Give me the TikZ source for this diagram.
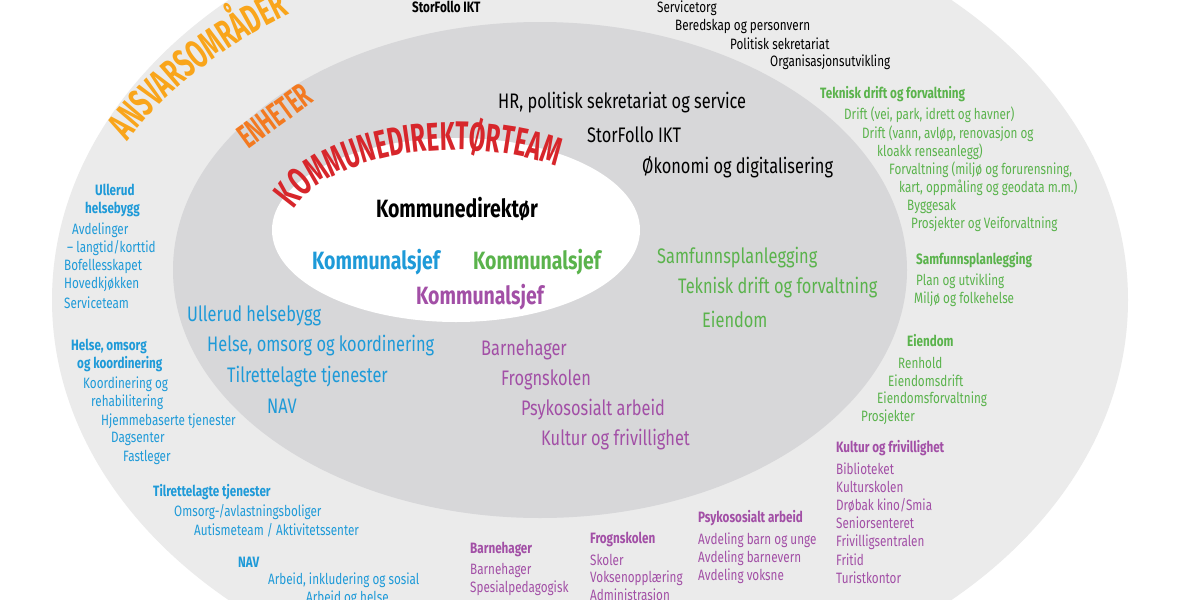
\documentclass[tikz,border=0pt]{standalone}
\usepackage{fontspec}
\setmainfont{Fira Sans}[FakeStretch=0.78]
\newfontfamily\narrowf{Fira Sans}[FakeStretch=0.6]
\usetikzlibrary{decorations.text}
\definecolor{cblue}{HTML}{1E9AD8}
\definecolor{cgreen}{HTML}{5AB34C}
\definecolor{cpurple}{HTML}{A24FA6}
\definecolor{cred}{HTML}{D7262B}
\definecolor{corange}{HTML}{F9A51B}
\definecolor{corange2}{HTML}{F37A21}
\definecolor{outerg}{HTML}{EBEBEB}
\definecolor{midg}{HTML}{D7D7D9}
\begin{document}
\begin{tikzpicture}[x=1pt,y=1pt,
  sm/.style={anchor=west,inner sep=0pt,font=\fontsize{15}{16}\selectfont},
  smb/.style={sm,font=\fontsize{15}{16}\selectfont\bfseries},
  md/.style={anchor=west,inner sep=0pt,font=\fontsize{21}{22}\selectfont},
  bg/.style={anchor=center,inner sep=0pt,font=\fontsize{25}{26}\selectfont\bfseries}]
\useasboundingbox (0,-600) rectangle (1200,0);
\fill[white] (0,-600) rectangle (1200,0);
\fill[outerg] (590,-300) ellipse[x radius=538,y radius=405];
\fill[midg] (540,-270) ellipse[x radius=367,y radius=248];
\fill[white] (456,-230) ellipse[x radius=184,y radius=92];
% curved titles
\path[decorate,decoration={text along path,text align=left,
  text={|\fontsize{40}{40}\selectfont\narrowf\bfseries\color{corange}|ANSVARSOMRÅDER}}]
  (590,-300) ++(153:519 and 350) arc[start angle=153,end angle=70,x radius=519,y radius=350];
\path[decorate,decoration={text along path,text align=center,
  text={|\fontsize{40}{40}\selectfont\narrowf\bfseries\color{cred}|KOMMUNEDIREKTØRTEAM}}]
  (456,-235) ++(172:170 and 85) arc[start angle=172,end angle=48,x radius=170,y radius=85];
\node[rotate=36,anchor=south west,inner sep=0pt,text=corange2,font=\fontsize{34}{34}\selectfont\narrowf\bfseries] (enh) at (248,-150) {ENHETER};
% inner
\node[bg] (kd) at (457,-209) {Kommunedirektør};
\node[bg,text=cblue] (k1) at (376,-262) {Kommunalsjef};
\node[bg,text=cgreen] (k2) at (537,-262) {Kommunalsjef};
\node[bg,text=cpurple] (k3) at (480,-297) {Kommunalsjef};
% middle ring
\foreach \x/\y/\t [count=\i] in {498/103/{HR, politisk sekretariat og service},587/135/{StorFollo IKT},642/167/{Økonomi og digitalisering}}
  \node[md] (mk\i) at (\x,-\y) {\t};
\foreach \x/\y/\t [count=\i] in {657/258/{Samfunnsplanlegging},678/288/{Teknisk drift og forvaltning},702/319/{Eiendom}}
  \node[md,text=cgreen] (mg\i) at (\x,-\y) {\t};
\foreach \x/\y/\t [count=\i] in {187/316/{Ullerud helsebygg},207/346/{Helse, omsorg og koordinering},227/377/{Tilrettelagte tjenester},267/406/{NAV}}
  \node[md,text=cblue] (mb\i) at (\x,-\y) {\t};
\foreach \x/\y/\t [count=\i] in {481/350/{Barnehager},501/380/{Frognskolen},521/410/{Psykososialt arbeid},541/440/{Kultur og frivillighet}}
  \node[md,text=cpurple] (mp\i) at (\x,-\y) {\t};
% outer ring black
\node[smb] (ok0) at (412,-7) {StorFollo IKT};
\foreach \x/\y/\t [count=\i] in {657/8/{Servicetorg},675/26/{Beredskap og personvern},730/44/{Politisk sekretariat},770/62/{Organisasjonsutvikling}}
  \node[sm] (ok\i) at (\x,-\y) {\t};
% outer green
\foreach \x/\y/\t [count=\i] in {820/94/{Teknisk drift og forvaltning},916/260/{Samfunnsplanlegging},907/341/{Eiendom}}
  \node[smb,text=cgreen] (ogh\i) at (\x,-\y) {\t};
\foreach \x/\y/\t [count=\i] in {844/115/{Drift (vei, park, idrett og havner)},862/134/{Drift (vann, avløp, renovasjon og},877/152/{kloakk renseanlegg)},889/170/{Forvaltning (miljø og forurensning,},899/188/{kart, oppmåling og geodata m.m.)},907/206/{Byggesak},911/224/{Prosjekter og Veiforvaltning},916/281/{Plan og utvikling},914/299/{Miljø og folkehelse},898/363/{Renhold},888/381/{Eiendomsdrift},877/399/{Eiendomsforvaltning},861/417/{Prosjekter}}
  \node[sm,text=cgreen] (og\i) at (\x,-\y) {\t};
% outer purple
\foreach \x/\y/\t [count=\i] in {836/448/{Kultur og frivillighet},698/518/{Psykososialt arbeid},590/539/{Frognskolen},470/549/{Barnehager}}
  \node[smb,text=cpurple] (oph\i) at (\x,-\y) {\t};
\foreach \x/\y/\t [count=\i] in {836/469/{Biblioteket},836/487/{Kulturskolen},836/505/{Drøbak kino/Smia},836/523/{Seniorsenteret},836/542/{Frivilligsentralen},836/560/{Fritid},836/578/{Turistkontor},698/540/{Avdeling barn og unge},698/558/{Avdeling barnevern},698/576/{Avdeling voksne},590/560/{Skoler},590/578/{Voksenopplæring},590/596/{Administrasjon},470/570/{Barnehager},470/588/{Spesialpedagogisk}}
  \node[sm,text=cpurple] (op\i) at (\x,-\y) {\t};
% outer blue
\foreach \x/\y/\t [count=\i] in {95/190/{Ullerud},85/209/{helsebygg},71/346/{Helse, omsorg},77/364/{og koordinering},153/492/{Tilrettelagte tjenester},238/562/{NAV}}
  \node[smb,text=cblue] (obh\i) at (\x,-\y) {\t};
\foreach \x/\y/\t [count=\i] in {72/230/{Avdelinger},67/248/{– langtid/korttid},64/266/{Bofellesskapet},64/284/{Hovedkjøkken},64/303/{Serviceteam},83/384/{Koordinering og},91/402/{rehabilitering},101/421/{Hjemmebaserte tjenester},111/439/{Dagsenter},123/457/{Fastleger},174/512/{Omsorg-/avlastningsboliger},194/530/{Autismeteam / Aktivitetssenter},268/580/{Arbeid, inkludering og sosial},306/598/{Arbeid og helse}}
  \node[sm,text=cblue] (ob\i) at (\x,-\y) {\t};
\end{tikzpicture}
\end{document}
